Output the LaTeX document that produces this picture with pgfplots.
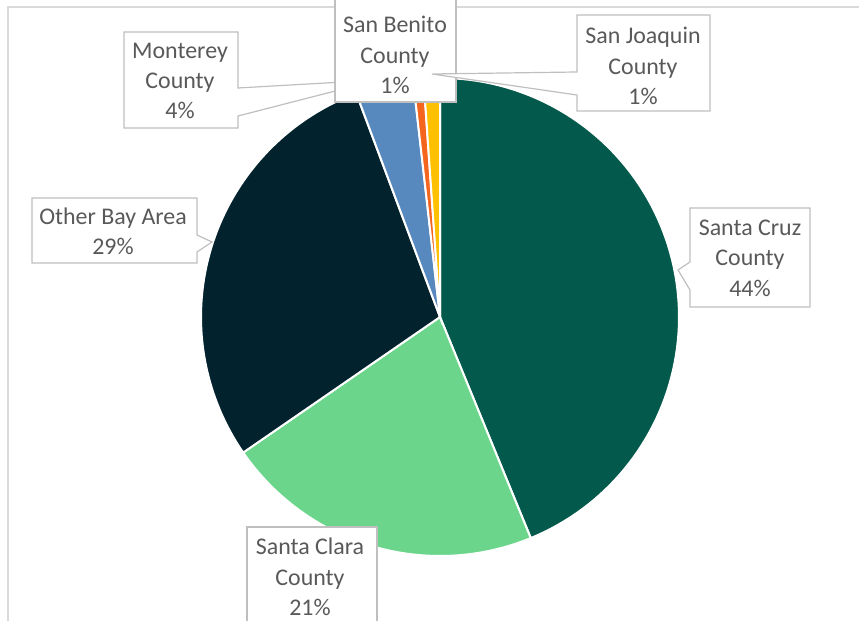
\documentclass[border=0pt]{standalone}
\usepackage{pgfplots}
\pgfplotsset{compat=1.18}
\usepackage{fontspec}
\setmainfont{Carlito}
\definecolor{cCruz}{HTML}{03594B}
\definecolor{cClara}{HTML}{6BD68B}
\definecolor{cOther}{HTML}{02222D}
\definecolor{cMont}{HTML}{5889BE}
\definecolor{cBen}{HTML}{F4661E}
\definecolor{cJoa}{HTML}{FFC000}
\definecolor{txt}{HTML}{595959}
\definecolor{bx}{HTML}{BFBFBF}
\definecolor{frame}{HTML}{D9D9D9}
\newcommand\lbl{\fontsize{24}{30.5}\selectfont}
% data (percent)
\def\vA{43.8}% Santa Cruz County
\def\vB{21.6}% Santa Clara County
\def\vC{28.9}% Other Bay Area
\def\vD{3.9}% Monterey County
\def\vE{0.7}% San Benito County
\def\vF{1.1}% San Joaquin County
\pgfmathsetmacro\aA{90-3.6*\vA}
\pgfmathsetmacro\aB{\aA-3.6*\vB}
\pgfmathsetmacro\aC{\aB-3.6*\vC}
\pgfmathsetmacro\aD{\aC-3.6*\vD}
\pgfmathsetmacro\aE{\aD-3.6*\vE}
\pgfmathsetmacro\aF{\aE-3.6*\vF}
\def\cx{440}
\def\cy{304}
\def\rr{239}
\begin{document}
\begin{tikzpicture}
\begin{axis}[
  at={(0,0)}, anchor=origin,
  scale only axis, width=859bp, height=621bp,
  xmin=0, xmax=859, ymin=0, ymax=621,
  hide axis, clip=false, no markers]
\addplot[fill=cCruz, draw=white, line width=2bp, domain=90:\aA, samples=90, variable=\t] ({\cx+\rr*cos(\t)},{\cy+\rr*sin(\t)}) -- (\cx,\cy) -- cycle;
\addplot[fill=cClara, draw=white, line width=2bp, domain=\aA:\aB, samples=60, variable=\t] ({\cx+\rr*cos(\t)},{\cy+\rr*sin(\t)}) -- (\cx,\cy) -- cycle;
\addplot[fill=cOther, draw=white, line width=2bp, domain=\aB:\aC, samples=70, variable=\t] ({\cx+\rr*cos(\t)},{\cy+\rr*sin(\t)}) -- (\cx,\cy) -- cycle;
\addplot[fill=cMont, draw=white, line width=2bp, domain=\aC:\aD, samples=15, variable=\t] ({\cx+\rr*cos(\t)},{\cy+\rr*sin(\t)}) -- (\cx,\cy) -- cycle;
\addplot[fill=cBen, draw=white, line width=2bp, domain=\aD:\aE, samples=5, variable=\t] ({\cx+\rr*cos(\t)},{\cy+\rr*sin(\t)}) -- (\cx,\cy) -- cycle;
\addplot[fill=cJoa, draw=white, line width=2bp, domain=\aE:\aF, samples=6, variable=\t] ({\cx+\rr*cos(\t)},{\cy+\rr*sin(\t)}) -- (\cx,\cy) -- cycle;
% chart frame
\draw[frame, line width=1.2bp] (8,0) -- (8,614) -- (859,614);
% label boxes
\draw[bx, fill=white, line width=1.2bp] (124,589) -- (238,589) -- (238,533) -- (378,541) -- (238,505) -- (238,493) -- (124,493) -- cycle;
\draw[bx, fill=white, line width=1.2bp] (335,625) -- (456,625) -- (456,519) -- (335,519) -- cycle;
\draw[bx, fill=white, line width=1.2bp] (577,606) -- (710,606) -- (710,510) -- (577,510) -- (577,526) -- (432,547) -- (577,549) -- cycle;
\draw[bx, fill=white, line width=1.2bp] (690,413) -- (810,413) -- (810,314) -- (690,314) -- (690,331) -- (678,351) -- (690,359) -- cycle;
\draw[bx, fill=white, line width=1.2bp] (32,423) -- (197,423) -- (197,386) -- (212,379) -- (197,369) -- (197,358) -- (32,358) -- cycle;
\draw[bx, fill=white, line width=1.2bp] (247,-5) -- (247,94) -- (377,94) -- (377,-5);
% label texts
\node[text=txt, align=center, font=\lbl, inner sep=0pt] at (180,540) {Monterey\\County\\4\%};
\node[text=txt, align=center, font=\lbl, inner sep=0pt] at (395,566) {San Benito\\County\\1\%};
\node[text=txt, align=center, font=\lbl, inner sep=0pt] at (643,555) {San Joaquin\\County\\1\%};
\node[text=txt, align=center, font=\lbl, inner sep=0pt] at (750,363) {Santa Cruz\\County\\44\%};
\node[text=txt, align=center, font=\lbl, inner sep=0pt] at (113,389.5) {Other Bay Area\\29\%};
\node[text=txt, align=center, font=\lbl, inner sep=0pt] at (310,44) {Santa Clara\\County\\21\%};
\end{axis}
\pgfresetboundingbox
\path[use as bounding box] (0,0) rectangle (859bp,621bp);
\end{tikzpicture}
\end{document}
